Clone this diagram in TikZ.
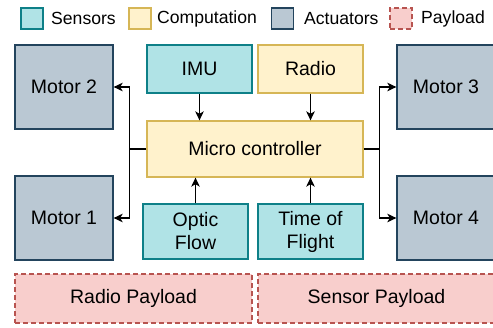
\documentclass[tikz,border=0pt]{standalone}
\usepackage{fontspec}
\setmainfont{Liberation Sans}
\usetikzlibrary{arrows.meta}
\definecolor{sensfill}{HTML}{B0E3E6}
\definecolor{sensdraw}{HTML}{0E8088}
\definecolor{compfill}{HTML}{FFF2CC}
\definecolor{compdraw}{HTML}{D6B656}
\definecolor{actfill}{HTML}{BAC8D3}
\definecolor{actdraw}{HTML}{23445D}
\definecolor{payfill}{HTML}{F8CECC}
\definecolor{paydraw}{HTML}{B85450}
\begin{document}
\begin{tikzpicture}[x=1pt,y=-1pt,
  box/.style={line width=1.3pt, font=\fontsize{19.5}{23}\selectfont, align=center, inner sep=0pt},
  sensor/.style={box, fill=sensfill, draw=sensdraw},
  comp/.style={box, fill=compfill, draw=compdraw},
  act/.style={box, fill=actfill, draw=actdraw, minimum width=98pt, minimum height=84pt},
  pay/.style={box, fill=payfill, draw=paydraw, dashed, dash pattern=on 5pt off 3pt, minimum width=237pt, minimum height=49pt},
  small/.style={minimum width=105pt},
  legbox/.style={line width=1.3pt, minimum width=22pt, minimum height=21pt, inner sep=0pt},
  legtext/.style={anchor=west, inner sep=0pt, font=\fontsize{17.6}{21}\selectfont},
  conn/.style={line width=1.4pt},
  arr/.style={line width=1.4pt, -{Stealth[length=9pt,width=8.5pt,inset=2.5pt]}}
]
\useasboundingbox (0,0) rectangle (493,327);
\fill[white] (0,0) rectangle (493,327);

% legend
\node[legbox, fill=sensfill, draw=sensdraw] (ls) at (32,18.5) {};
\node[legtext] (lst) at (51,18.5) {Sensors};
\node[legbox, fill=compfill, draw=compdraw] (lc) at (140,18.5) {};
\node[legtext] (lct) at (157,18.5) {Computation};
\node[legbox, fill=actfill, draw=actdraw] (la) at (282.5,18.5) {};
\node[legtext] (lat) at (304,18.5) {Actuators};
\node[legbox, fill=payfill, draw=paydraw, dashed, dash pattern=on 5pt off 3pt] (lp) at (401,18.5) {};
\node[legtext] (lpt) at (421,18.5) {Payload};

% nodes
\node[act] (m2) at (64,87) {Motor 2};
\node[sensor, small, minimum height=48pt] (imu) at (199.5,69) {IMU};
\node[comp, small, minimum height=48pt] (radio) at (310.5,69) {Radio};
\node[act] (m3) at (446,87) {Motor 3};
\node[comp, minimum width=216pt, minimum height=56pt] (mc) at (255,149) {Micro controller};
\node[act] (m1) at (64,218) {Motor 1};
\node[sensor, small, minimum height=55pt] (of) at (195.5,231.5) {Optic\\Flow};
\node[sensor, small, minimum height=55pt] (tof) at (310.5,231.5) {Time of\\Flight};
\node[act] (m4) at (446,218) {Motor 4};
\node[pay] (rp) at (133.5,298.5) {Radio Payload};
\node[pay] (sp) at (376.5,298.5) {Sensor Payload};

% connectors
\draw[conn] (mc.west) -- ++(-17,0) coordinate (lj);
\draw[arr] (lj) |- (m2.east);
\draw[arr] (lj) |- (m1.east);
\draw[conn] (mc.east) -- ++(16,0) coordinate (rj);
\draw[arr] (rj) |- (m3.west);
\draw[arr] (rj) |- (m4.west);
\draw[arr] (imu.south) -- (imu.south |- mc.north);
\draw[arr] (radio.south) -- (radio.south |- mc.north);
\draw[arr] (of.north) -- (of.north |- mc.south);
\draw[arr] (tof.north) -- (tof.north |- mc.south);
\end{tikzpicture}
\end{document}
